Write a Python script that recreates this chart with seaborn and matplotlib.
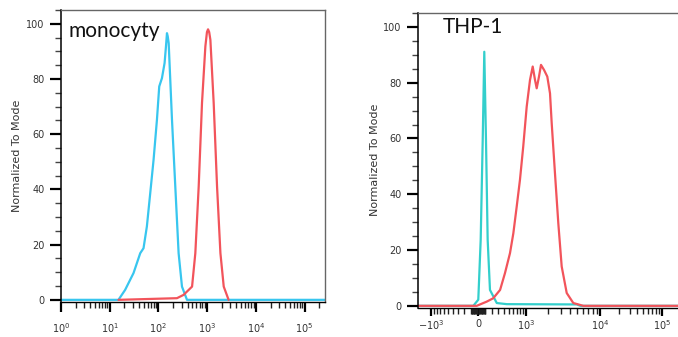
import numpy as np
import pandas as pd
import matplotlib
matplotlib.use("Agg")
import matplotlib.pyplot as plt
import seaborn as sns
from matplotlib.ticker import FixedLocator, MultipleLocator, LogLocator, NullFormatter, LogFormatterMathtext, FixedFormatter

# ---------------- data ----------------
# monocyty panel (log axis)
mono_ctrl_x = [1, 15.1, 20.7, 30.8, 42.3, 49.4, 57.9, 67.8, 79.4, 93.1, 103.8, 118, 133.7,
               143.0, 149.6, 155.0, 162.2, 189.7, 221.8, 259.4, 304.1, 385.5, 262144]
mono_ctrl_y = [0, 0, 3.6, 9.7, 16.9, 18.7, 26.6, 38.6, 50.7, 65.2, 77.3, 80.3, 85.8,
               92.0, 96.6, 95.5, 93.0, 65.2, 41.0, 16.9, 4.8, 0, 0]
mono_stain_x = [15.1, 239.9, 328.1, 489.8, 571.5, 669.9, 783.4, 918.3, 990, 1042, 1100,
                1164, 1361, 1596, 1871, 2188, 2754]
mono_stain_y = [0, 0.6, 1.8, 4.8, 16.9, 41.0, 71.3, 91.8, 97.0, 98.0, 97.0,
                94.2, 71.3, 41.0, 16.9, 4.8, 0]

# THP-1 panel (biexponential axis)
thp_ctrl_x = [-1614, -66, 4, 37, 65, 87, 111, 135, 169, 276, 462, 4900, 5500, 181000]
thp_ctrl_y = [0, 0, 2.2, 23.7, 59.5, 91.1, 59.5, 23.7, 5.7, 1.0, 0.6, 0.5, 0, 0]
thp_stain_x = [-1614, -18, 121, 218, 333, 425, 533, 613, 702, 797, 902, 1023, 1140, 1244,
               1339, 1413, 1520, 1619, 1780, 1973, 2147, 2263, 2504, 2778, 3084, 3600,
               4408, 6000, 181000]
thp_stain_y = [0, 0, 1.5, 2.7, 5.7, 11.7, 18.9, 26.0, 35.6, 45.2, 57.1, 71.4, 81.0, 85.8,
               81.0, 78.0, 82.2, 86.4, 84.6, 82.2, 76.2, 65.5, 47.6, 29.6, 14.1, 4.6,
               1.0, 0, 0]

titles = ["monocyty", "THP-1"]
ylabel = "Normalized To Mode"
y_major = [0, 20, 40, 60, 80, 100]
thp_tick_vals = [-1e3, 0, 1e3, 1e4, 1e5]
thp_tick_labels = ["$-10^{3}$", "0", "$10^{3}$", "$10^{4}$", "$10^{5}$"]

CYAN_L = "#38c6ef"
CYAN_R = "#33cfcc"
RED = "#f2545b"
TXT = "#333333"

# ---------------- style ----------------
sns.set_theme(style="white")
plt.rcParams["font.family"] = ["DejaVu Sans"]

fig = plt.figure(figsize=(6.78, 3.37), dpi=100)
W, H = 678.0, 337.0
ax1 = fig.add_axes([61 / W, 1 - 301.5 / H, 264 / W, 291.5 / H])
ax2 = fig.add_axes([418 / W, 1 - 307.5 / H, 260 / W, 294.5 / H])

# --- biexponential-like scale for THP-1 axis ---
LW = 400.0
U_ANCH = np.arcsinh(np.array([-1e3, 0, 1e3, 1e4, 1e5]) / LW)
P_ANCH = np.array([431, 478, 526, 600, 662], float)
lo_s = (P_ANCH[1] - P_ANCH[0]) / (U_ANCH[1] - U_ANCH[0])
hi_s = (P_ANCH[-1] - P_ANCH[-2]) / (U_ANCH[-1] - U_ANCH[-2])
U_EXT = np.r_[U_ANCH[0] - 50, U_ANCH, U_ANCH[-1] + 50]
P_EXT = np.r_[P_ANCH[0] - 50 * lo_s, P_ANCH, P_ANCH[-1] + 50 * hi_s]


def fwd(x):
    return np.interp(np.arcsinh(np.asarray(x, float) / LW), U_EXT, P_EXT)


def inv(p):
    return LW * np.sinh(np.interp(np.asarray(p, float), P_EXT, U_EXT))


# ---------------- left panel ----------------
df_mc = pd.DataFrame({"x": mono_ctrl_x, "y": mono_ctrl_y})
df_ms = pd.DataFrame({"x": mono_stain_x, "y": mono_stain_y})
ax1.set_xscale("log")
sns.lineplot(data=df_mc, x="x", y="y", ax=ax1, color=CYAN_L, lw=1.6, estimator=None)
sns.lineplot(data=df_ms, x="x", y="y", ax=ax1, color=RED, lw=1.6, estimator=None)
ax1.set_xlim(1, 262144)
ax1.xaxis.set_major_locator(LogLocator(base=10, numticks=10))
ax1.xaxis.set_major_formatter(LogFormatterMathtext())
ax1.xaxis.set_minor_locator(LogLocator(base=10, subs=np.arange(2, 10), numticks=20))
ax1.xaxis.set_minor_formatter(NullFormatter())

# ---------------- right panel ----------------
df_tc = pd.DataFrame({"x": thp_ctrl_x, "y": thp_ctrl_y})
df_ts = pd.DataFrame({"x": thp_stain_x, "y": thp_stain_y})
ax2.set_xscale("function", functions=(fwd, inv))
sns.lineplot(data=df_tc, x="x", y="y", ax=ax2, color=CYAN_R, lw=1.6, estimator=None)
sns.lineplot(data=df_ts, x="x", y="y", ax=ax2, color=RED, lw=1.6, estimator=None)
ax2.set_xlim(float(inv(418)), float(inv(678)))
ax2.xaxis.set_major_locator(FixedLocator(thp_tick_vals))
ax2.xaxis.set_major_formatter(FixedFormatter(thp_tick_labels))
minor = []
for dec in (10, 100, 1000, 10000):
    for m in range(2 if dec >= 1000 else 1, 10):
        minor.append(m * dec)
minor = sorted(set(minor + [-v for v in minor if v < 1000]))
ax2.xaxis.set_minor_locator(FixedLocator(minor))

for ax, title, tx, ty in [(ax1, titles[0], 0.027, 0.907), (ax2, titles[1], 0.096, 0.931)]:
    ax.set_ylim(-0.6, 105)
    ax.yaxis.set_major_locator(FixedLocator(y_major))
    ax.yaxis.set_minor_locator(MultipleLocator(5))
    ax.set_xlabel("")
    ax.set_ylabel(ylabel, fontsize=8, color=TXT)
    ax.tick_params(axis="y", which="major", direction="out", length=8, width=1.6,
                   color="black", labelsize=7, labelcolor=TXT, pad=4, left=True)
    ax.tick_params(axis="y", which="minor", direction="out", length=4, width=1.0,
                   color="#444444", left=True)
    ax.tick_params(axis="x", which="major", direction="out", length=7, width=1.6,
                   color="black", labelsize=7, labelcolor=TXT, pad=7, bottom=True)
    ax.tick_params(axis="x", which="minor", direction="out", length=4, width=1.0,
                   color="#222222", bottom=True)
    ax.spines["left"].set_color("black")
    ax.spines["left"].set_linewidth(1.1)
    ax.spines["bottom"].set_color("black")
    ax.spines["bottom"].set_linewidth(1.0)
    ax.spines["top"].set_color("#666666")
    ax.spines["top"].set_linewidth(1.0)
    ax.spines["right"].set_color("#666666")
    ax.spines["right"].set_linewidth(1.0)
    ax.text(tx, ty, title, transform=ax.transAxes, fontsize=15, family="Lato",
            color="#111111", ha="left", va="baseline")

ax2.tick_params(axis="x", which="major", pad=2, length=6)
ax2.spines["right"].set_visible(False)
ax1.yaxis.set_label_coords(-0.148, 0.5)
ax2.yaxis.set_label_coords(-0.146, 0.5)

fig.savefig("out.png", dpi=100)
